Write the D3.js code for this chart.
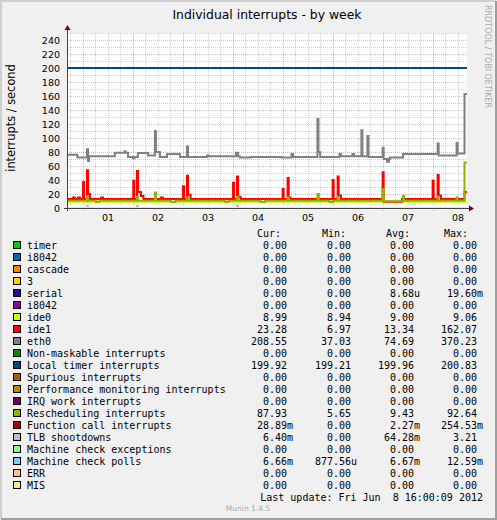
<!DOCTYPE html>
<html>
<head>
<meta charset="utf-8">
<script src="https://cdn.jsdelivr.net/npm/d3@7"></script>
<style>
  body { margin: 0; background: #f0f0f0; }
  svg text { font-family: "DejaVu Sans", sans-serif; }
  svg .mono text { font-family: "DejaVu Sans Mono", monospace; }
</style>
</head>
<body>
<div id="chart"></div>
<script>

// ---- data (hours since start of graph, value) ----
var seriesNames = ["timer", "i8042", "cascade", "3", "serial", "i8042", "ide0", "ide1", "eth0",
    "Non-maskable interrupts", "Local timer interrupts", "Spurious interrupts",
    "Performance monitoring interrupts", "IRQ work interrupts", "Rescheduling interrupts",
    "Function call interrupts", "TLB shootdowns", "Machine check exceptions",
    "Machine check polls", "ERR", "MIS"];

var seriesColors = ["#00CC00", "#0066B3", "#FF8000", "#FFCC00", "#330099", "#990099", "#CCFF00",
    "#FF0000", "#808080", "#008F00", "#00487D", "#B35A00", "#B38F00", "#6B006B", "#8FB300",
    "#B30000", "#BEBEBE", "#80FF80", "#80C9FF", "#FFC080", "#FFE680"];

var zeroLine = [[0, 0], [192, 0]];

var ide0 = [[0, 9], [192, 9]];

var ide1 = [[0, 13], [2.9, 15], [3.8, 13], [5.3, 15], [6.2, 13],
    [7.7, 37], [8.2, 13], [9.6, 54], [10.1, 20], [11, 13], [16.3, 15], [17.3, 13],
    [31.8, 39], [32.3, 13], [33.6, 53], [34.1, 23], [35.5, 17], [36.7, 13], [45, 15], [46, 13],
    [55.7, 31], [56.2, 13], [57.6, 46], [58.1, 19], [59.3, 13],
    [79.7, 36], [80.2, 13], [81.6, 45], [82.1, 16], [83.3, 13],
    [103.5, 27], [104, 13], [105.9, 43], [106.4, 15], [107.3, 13],
    [127.5, 40], [128, 13], [129.9, 45], [130.4, 18], [131.5, 13],
    [151.5, 51], [152, 9], [160.8, 13],
    [175.5, 39], [176, 13], [177.9, 47], [178.4, 18], [179.5, 13], [190.8, 23], [192, 23]];

var eth0 = [[0, 76], [5, 72], [9.6, 84], [10.1, 67], [10.6, 74],
    [23, 79], [27.6, 81], [28.1, 79], [29.3, 73], [31.7, 71], [32.4, 73], [34, 78.5], [38.9, 75],
    [42.2, 110], [42.7, 80], [44.6, 73], [48, 77], [54.2, 73], [57.6, 88], [58.1, 73],
    [67.2, 75], [68, 74], [81.1, 79], [82.1, 74], [83, 72], [88, 73],
    [103, 72], [107.8, 77], [108.5, 73],
    [120.2, 127], [120.7, 80], [121.5, 73], [130.8, 77], [131.5, 74], [137, 77], [137.8, 74],
    [141.3, 111], [141.8, 74], [144.2, 103], [144.7, 73],
    [151.5, 86], [152, 70], [153.6, 66], [154.6, 70], [155, 72],
    [161.3, 77], [177.9, 92], [178.4, 75], [187, 93], [187.5, 78], [190.8, 163], [192, 163]];

var localTimer = [[0, 200], [192, 200]];

var resched = [[0, 10.5], [9.6, 17], [10.1, 10.5], [14, 8.5], [15.5, 10.5],
    [33.6, 16], [34.1, 10.5], [42.2, 22], [42.7, 10.5], [50, 8.5], [52, 10.5],
    [57.6, 15], [58.1, 10.5], [76, 8.5], [77.5, 10.5], [81.6, 16], [82.1, 10.5],
    [93, 8.5], [95, 10.5], [105.9, 15.5], [106.4, 10.5], [120.2, 20], [120.9, 10.5],
    [126, 8.5], [127.5, 10.5], [129.9, 16], [130.4, 10.5], [151.5, 27], [152, 9.5],
    [161.3, 17.5], [161.8, 10.5], [177.9, 16.5], [178.4, 10.5], [187, 15], [187.5, 10.5],
    [190.8, 65], [192, 65]];

var tlb = [[0, 0], [9.6, 3], [10.1, 0], [33.6, 3], [34.1, 0], [81.6, 3], [82.1, 0], [192, 0]];

var seriesData = [zeroLine, zeroLine, zeroLine, zeroLine, zeroLine, zeroLine, ide0, ide1, eth0,
    zeroLine, localTimer, zeroLine, zeroLine, zeroLine, resched, zeroLine, tlb, zeroLine,
    zeroLine, zeroLine, zeroLine];

var curVals = [0, 0, 0, 0, 0, 0, 8.99, 23.28, 208.55, 0, 199.92, 0, 0, 0, 87.93, 0.02889, 0.0064, 0, 0.00666, 0, 0];
var minVals = [0, 0, 0, 0, 0, 0, 8.94, 6.97, 37.03, 0, 199.21, 0, 0, 0, 5.65, 0, 0, 0, 0.00087756, 0, 0];
var avgVals = [0, 0, 0, 0, 8.68e-6, 0, 9.00, 13.34, 74.69, 0, 199.96, 0, 0, 0, 9.43, 0.00227, 0.06428, 0, 0.00667, 0, 0];
var maxVals = [0, 0, 0, 0, 0.0196, 0, 9.06, 162.07, 370.23, 0, 200.83, 0, 0, 0, 92.64, 0.25453, 3.21, 0, 0.01259, 0, 0];

var yTicks = [0, 20, 40, 60, 80, 100, 120, 140, 160, 180, 200, 220, 240];

// ---- drawing ----
function drawChart() {
    var width = 497, height = 520;
    var pl = 67, pr = 467, pt = 33, pb = 208;
    var start = new Date(2012, 4, 31, 16, 30);
    function at(h) { return new Date(+start + h * 36e5); }

    var svg = d3.select("#chart").append("svg")
        .attr("width", width)
        .attr("height", height);

    // frame
    svg.append("rect").attr("width", width).attr("height", height).attr("fill", "#f0f0f0");
    svg.append("path").attr("d", "M1,519V1H496").attr("fill", "none").attr("stroke", "#cfcfcf").attr("stroke-width", 2);
    svg.append("path").attr("d", "M1,519H496V1").attr("fill", "none").attr("stroke", "#9e9e9e").attr("stroke-width", 2);

    var x = d3.scaleTime().domain([start, at(192)]).range([pl, pr]);
    var y = d3.scaleLinear().domain([0, 250]).range([pb, pt]);

    svg.append("rect")
        .attr("x", pl).attr("y", pt)
        .attr("width", pr - pl).attr("height", pb - pt)
        .attr("fill", "#ffffff");

    // grid
    var minorY = d3.range(10, 251, 10);
    var minorX = d3.timeHour.every(6).range(start, at(192));
    var majorX = d3.timeDay.range(start, at(192));
    var red = "rgba(222,80,80,0.45)", gray = "rgba(143,143,143,0.4)";

    var grid = svg.append("g").attr("shape-rendering", "crispEdges").attr("stroke-dasharray", "1,1");
    grid.selectAll(".gy").data(minorY).enter().append("line")
        .attr("x1", pl).attr("x2", pr)
        .attr("y1", function (d) { return Math.round(y(d)) + 0.5; })
        .attr("y2", function (d) { return Math.round(y(d)) + 0.5; })
        .attr("stroke", function (d) { return d % 20 === 0 ? red : gray; });
    grid.selectAll(".gx").data(minorX).enter().append("line")
        .attr("y1", pb).attr("y2", pt)
        .attr("x1", function (d) { return Math.round(x(d)) + 0.5; })
        .attr("x2", function (d) { return Math.round(x(d)) + 0.5; })
        .attr("stroke", function (d) { return d.getHours() === 0 ? red : gray; });
    grid.selectAll(".tx").data(majorX).enter().append("line")
        .attr("y1", pb).attr("y2", pb + 3)
        .attr("x1", function (d) { return Math.round(x(d)) + 0.5; })
        .attr("x2", function (d) { return Math.round(x(d)) + 0.5; })
        .attr("stroke", red);

    // series, drawn in legend order so later ones sit on top
    var line = d3.line()
        .x(function (d) { return x(at(d[0])); })
        .y(function (d) { return y(d[1]); })
        .curve(d3.curveStepAfter);

    svg.append("g").selectAll("path")
        .data(seriesData)
        .enter().append("path")
        .attr("d", line)
        .attr("fill", "none")
        .attr("stroke", function (d, i) { return seriesColors[i]; })
        .attr("stroke-width", 2);

    // axes
    var axisCol = "#404040";
    svg.append("line").attr("x1", pl + 0.5).attr("x2", pl + 0.5).attr("y1", pb + 3).attr("y2", pt - 4)
        .attr("stroke", axisCol);
    svg.append("line").attr("x1", pl - 3).attr("x2", pr + 3).attr("y1", pb + 0.5).attr("y2", pb + 0.5)
        .attr("stroke", axisCol);
    svg.append("path").attr("d", "M" + (pl - 2.5) + "," + (pt - 3) + "L" + (pl + 0.5) + "," + (pt - 8) + "L" + (pl + 3.5) + "," + (pt - 3) + "Z")
        .attr("fill", "#7f0000");
    svg.append("path").attr("d", "M" + (pr + 2) + "," + (pb - 2.5) + "L" + (pr + 7) + "," + (pb + 0.5) + "L" + (pr + 2) + "," + (pb + 3.5) + "Z")
        .attr("fill", "#7f0000");

    var yAxis = svg.append("g")
        .attr("transform", "translate(" + (pl - 3) + ",0)")
        .call(d3.axisLeft(y).tickValues(yTicks).tickSize(0).tickPadding(4));
    yAxis.select(".domain").remove();
    yAxis.selectAll("text").attr("font-family", "DejaVu Sans").attr("font-size", 9.5).attr("fill", "#000");

    var dayLabels = majorX.map(function (d) { return d3.timeHour.offset(d, 12); });
    var xAxis = svg.append("g")
        .attr("transform", "translate(0," + pb + ")")
        .call(d3.axisBottom(x).tickValues(dayLabels).tickFormat(d3.timeFormat("%d")).tickSize(0).tickPadding(6));
    xAxis.select(".domain").remove();
    xAxis.selectAll("text").attr("font-family", "DejaVu Sans").attr("font-size", 9.5).attr("fill", "#000");

    // titles
    svg.append("text").attr("x", (pl + pr) / 2).attr("y", 19)
        .attr("text-anchor", "middle").attr("font-size", 12.4)
        .text("Individual interrupts - by week");
    svg.append("text").attr("transform", "translate(15,118) rotate(-90)")
        .attr("text-anchor", "middle").attr("font-size", 11.4)
        .text("interrupts / second");
    svg.append("text").attr("transform", "translate(485,5) rotate(90)")
        .attr("font-size", 8).attr("fill", "#aaaaaa")
        .text("RRDTOOL / TOBI OETIKER");

    // legend
    function fmt(v) {
        if (v !== 0 && Math.abs(v) < 1e-3) return [(v * 1e6).toFixed(2), "u"];
        if (v !== 0 && Math.abs(v) < 1) return [(v * 1e3).toFixed(2), "m"];
        return [v.toFixed(2), ""];
    }
    var colRight = [287, 351, 414, 477];
    var headers = ["Cur:", "Min:", "Avg:", "Max:"];
    var headerX = [257, 322, 386, 444];
    var legend = svg.append("g").attr("class", "mono").attr("font-size", 10);

    legend.selectAll(".hdr").data(headers).enter().append("text")
        .attr("x", function (d, i) { return headerX[i]; })
        .attr("y", 236.5)
        .text(function (d) { return d; });

    var rows = legend.selectAll(".row").data(seriesNames).enter().append("g")
        .attr("transform", function (d, i) { return "translate(0," + (245 + 12 * i) + ")"; });
    rows.append("rect")
        .attr("x", 13.5).attr("y", -3.5).attr("width", 7).attr("height", 7)
        .attr("fill", function (d, i) { return seriesColors[i]; })
        .attr("stroke", "#000").attr("stroke-width", 1);
    rows.append("text").attr("x", 27).attr("y", 3.5).text(function (d) { return d; });

    [curVals, minVals, avgVals, maxVals].forEach(function (vals, c) {
        rows.append("text")
            .attr("x", colRight[c]).attr("y", 3.5)
            .attr("text-anchor", "end")
            .text(function (d, i) { return fmt(vals[i])[0]; });
        rows.append("text")
            .attr("x", colRight[c]).attr("y", 3.5)
            .text(function (d, i) { return fmt(vals[i])[1]; });
    });

    legend.append("text").attr("x", 483).attr("y", 500.5).attr("text-anchor", "end")
        .style("white-space", "pre")
        .text("Last update: Fri Jun  8 16:00:09 2012");

    svg.append("text").attr("x", 248).attr("y", 511).attr("text-anchor", "middle")
        .attr("font-size", 7.5).attr("fill", "#aaaaaa")
        .text("Munin 1.4.5");
}

drawChart();
</script>
</body>
</html>
